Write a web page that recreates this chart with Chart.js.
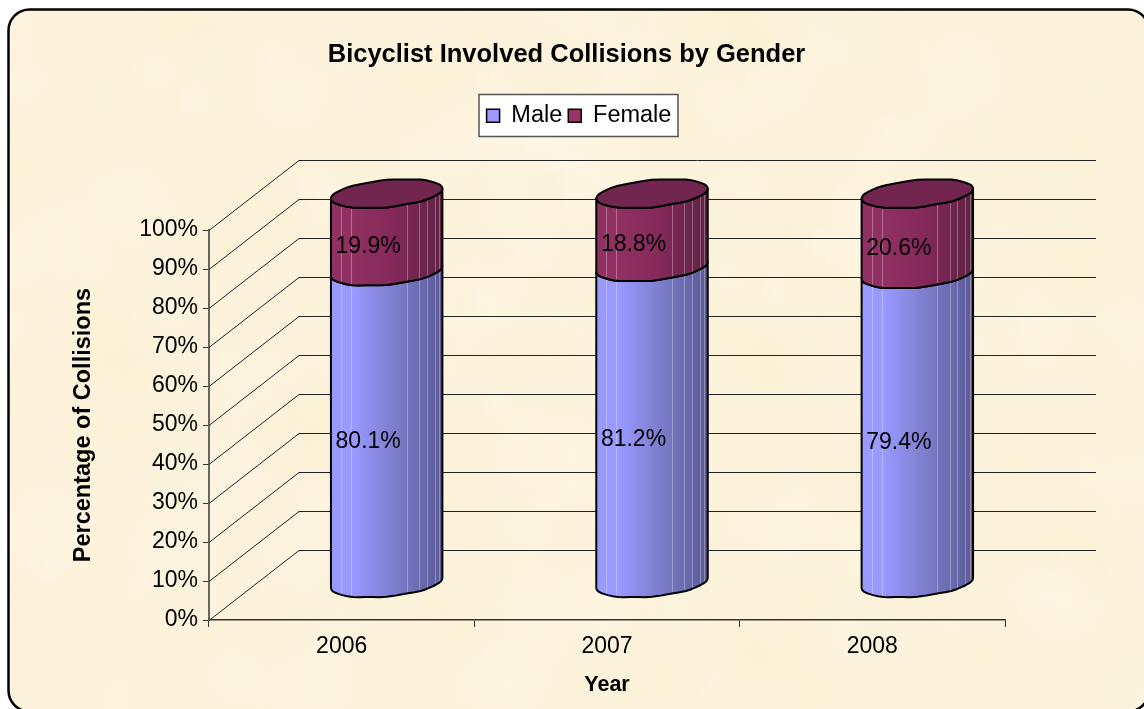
<!DOCTYPE html>
<html>
<head>
<meta charset="utf-8">
<style>html,body{margin:0;padding:0;background:#fff}canvas{display:block}</style>
<script src="https://cdn.jsdelivr.net/npm/chart.js@4/dist/chart.umd.min.js"></script>
</head>
<body>
<canvas id="c" width="1144" height="709"></canvas>
<script>
const years = ['2006', '2007', '2008'];
const male = [80.1, 81.2, 79.4];
const female = [19.9, 18.8, 20.6];
const FONT = '"Liberation Sans", Arial, sans-serif';
const DX = 90, DY = -70, RY = 13.5, TILT = 5;
const streaks = [0.09, 0.18, 0.68, 0.79, 0.86, 0.93, 0.97];

function paper(ctx) {
  ctx.save();
  ctx.fillStyle = '#ffffff';
  ctx.fillRect(0, 0, 1144, 709);
  ctx.beginPath();
  ctx.roundRect(8.5, 9.5, 1140.5, 702, 21);
  ctx.fillStyle = '#fdf3dc';
  ctx.fill();
  ctx.save();
  ctx.clip();
  let s = 12345;
  const rnd = () => (s = (s * 1103515245 + 12345) & 0x7fffffff) / 0x7fffffff;
  const tones = ['255,248,235', '250,240,210', '255,244,225', '249,241,215'];
  for (let i = 0; i < 420; i++) {
    const x = rnd() * 1144, y = rnd() * 709, r = 18 + rnd() * 50;
    const t = tones[Math.floor(rnd() * 4)];
    const g = ctx.createRadialGradient(x, y, 0, x, y, r);
    g.addColorStop(0, 'rgba(' + t + ',0.35)');
    g.addColorStop(1, 'rgba(' + t + ',0)');
    ctx.fillStyle = g;
    ctx.fillRect(x - r, y - r, 2 * r, 2 * r);
  }
  ctx.restore();
  ctx.lineWidth = 2.5;
  ctx.strokeStyle = '#000';
  ctx.stroke();
  ctx.restore();
}

function rim(cx, cy, rx, from, to) {
  const pts = [], n = 24;
  for (let i = 0; i <= n; i++) {
    const t = from + (to - from) * i / n;
    const wave = 0.35 * Math.sin(9 * t) * Math.abs(Math.sin(t));
    pts.push([cx + rx * Math.cos(t), cy - TILT * Math.cos(t) + RY * Math.sin(t) + wave]);
  }
  return pts;
}

function segment(ctx, cx, yBase, yTop, rx, c0, c1, c2) {
  const low = rim(cx, yBase, rx, 0, Math.PI);
  const high = rim(cx, yTop, rx, Math.PI, 0);
  const path = () => {
    ctx.beginPath();
    low.concat(high).forEach((p, i) => i ? ctx.lineTo(p[0], p[1]) : ctx.moveTo(p[0], p[1]));
    ctx.closePath();
  };
  const g = ctx.createLinearGradient(cx - rx, 0, cx + rx, 0);
  g.addColorStop(0, c0);
  g.addColorStop(0.2, c0);
  g.addColorStop(0.55, c1);
  g.addColorStop(1, c2);
  ctx.save();
  path();
  ctx.fillStyle = g;
  ctx.fill();
  ctx.clip();
  ctx.strokeStyle = 'rgba(255,255,255,0.3)';
  ctx.lineWidth = 1;
  streaks.forEach(f => {
    const x = Math.round(cx - rx + 2 * rx * f) + 0.5;
    ctx.beginPath();
    ctx.moveTo(x, yTop - 30);
    ctx.lineTo(x, yBase + 30);
    ctx.stroke();
  });
  ctx.restore();
  path();
  ctx.strokeStyle = '#000';
  ctx.lineWidth = 2;
  ctx.lineJoin = 'round';
  ctx.stroke();
}

const plugin3d = {
  id: 'plugin3d',
  beforeDraw(chart) {
    paper(chart.ctx);
    const ctx = chart.ctx;
    ctx.save();
    ctx.fillStyle = '#fff';
    ctx.strokeStyle = '#555';
    ctx.lineWidth = 1.5;
    ctx.fillRect(479, 94.5, 199, 42);
    ctx.strokeRect(479, 94.5, 199, 42);
    ctx.restore();
  },
  afterLayout(chart) {
    const t = chart.titleBlock;
    t.left = 8; t.right = 1125; t.top = 40; t.bottom = 72;
    const l = chart.legend;
    l.left = 479; l.right = 679; l.top = 98; l.bottom = 136;
    l.adjustHitBoxes();
  },
  beforeDatasetsDraw(chart) {
    const ctx = chart.ctx, y = chart.scales.y, a = chart.chartArea;
    ctx.save();
    ctx.strokeStyle = '#222';
    ctx.lineWidth = 1;
    y.ticks.forEach(t => {
      const py = Math.round(y.getPixelForValue(t.value)) + 0.5;
      ctx.beginPath();
      ctx.moveTo(a.left, py);
      ctx.lineTo(a.left + DX, py + DY);
      ctx.lineTo(1096, py + DY);
      ctx.stroke();
    });
    const m0 = chart.getDatasetMeta(0).data, m1 = chart.getDatasetMeta(1).data;
    m0.forEach((el, i) => {
      const rx = el.width / 2, cx = el.x + DX / 2, dy = DY / 2 - 1.5;
      const yb = el.base + dy, ym = el.y + dy, yt = m1[i].y + dy;
      segment(ctx, cx, yb, ym, rx, '#9999ff', '#7f7fcf', '#5a5a96');
      segment(ctx, cx, ym, yt, rx, '#913063', '#84295a', '#5f2244');
      const rimPts = rim(cx, yt, rx, 0, Math.PI).concat(rim(cx, yt, rx, Math.PI, 2 * Math.PI));
      ctx.beginPath();
      rimPts.forEach((p, k) => k ? ctx.lineTo(p[0], p[1]) : ctx.moveTo(p[0], p[1]));
      ctx.closePath();
      ctx.fillStyle = '#72264f';
      ctx.fill();
      ctx.strokeStyle = '#000';
      ctx.lineWidth = 2;
      ctx.stroke();
    });
    ctx.fillStyle = '#000';
    ctx.font = '23px ' + FONT;
    ctx.textAlign = 'center';
    ctx.textBaseline = 'middle';
    [0, 1].forEach(d => chart.getDatasetMeta(d).data.forEach((el, i) => {
      const v = chart.data.datasets[d].data[i];
      ctx.fillText(v.toFixed(1) + '%', el.x + 26.5, (el.y + el.base) / 2 - 22);
    }));
    ctx.restore();
    return false;
  }
};

new Chart(document.getElementById('c'), {
  type: 'bar',
  data: {
    labels: years,
    datasets: [
      { label: 'Male', data: male, backgroundColor: '#9999ff', borderColor: '#000', borderWidth: 1.5 },
      { label: 'Female', data: female, backgroundColor: '#993366', borderColor: '#000', borderWidth: 1.5 }
    ]
  },
  plugins: [plugin3d],
  options: {
    responsive: false,
    animation: false,
    devicePixelRatio: 1,
    datasets: { bar: { categoryPercentage: 1, barPercentage: 0.42 } },
    layout: { padding: { top: 0, left: 0, right: 139, bottom: 0 } },
    plugins: {
      tooltip: { enabled: false },
      title: {
        display: true,
        text: 'Bicyclist Involved Collisions by Gender',
        color: '#000',
        font: { family: FONT, size: 25.5, weight: 'bold' },
        padding: { top: 0, bottom: 160 }
      },
      legend: {
        display: true,
        position: 'top',
        labels: { color: '#000', boxWidth: 13, boxHeight: 13, padding: 6, font: { family: FONT, size: 23.5 } }
      }
    },
    scales: {
      x: {
        stacked: true,
        afterFit(s) { s.height = 89; },
        grid: { drawOnChartArea: false, drawTicks: true, tickLength: 7, color: '#333', offset: true },
        border: { color: '#333', width: 1.5 },
        ticks: { color: '#000', padding: 6, font: { family: FONT, size: 23 }, maxRotation: 0 },
        title: { display: true, text: 'Year', color: '#000', font: { family: FONT, size: 21.5, weight: 'bold' }, padding: { top: 0, bottom: 11 } }
      },
      y: {
        stacked: true,
        min: 0, max: 100,
        afterFit(s) { s.width = 209; },
        grid: { drawOnChartArea: false, drawTicks: true, tickLength: 6, color: '#333' },
        border: { color: '#666', width: 2 },
        ticks: { stepSize: 10, color: '#000', padding: 5, font: { family: FONT, size: 23 }, callback: v => v + '%' },
        title: { display: true, text: 'Percentage of Collisions', color: '#000', font: { family: FONT, size: 23.5, weight: 'bold' }, padding: { top: 69, bottom: 0 } }
      }
    }
  }
});
</script>
</body>
</html>
